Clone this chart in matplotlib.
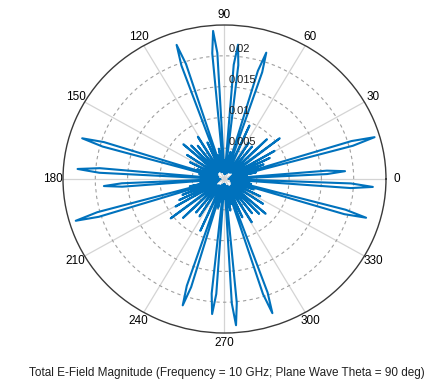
import numpy as np
import matplotlib
matplotlib.use("Agg")
import matplotlib.pyplot as plt

plt.rcParams['font.family'] = ['Liberation Sans', 'DejaVu Sans']

# total E-field magnitude, (angle deg, magnitude) per quadrant
trace_0_90 = [
    (0.0, 0.0012), (1.8, 0.0006), (2.9, 0.0159), (3.9, 0.0187), (4.9, 0.0159),
    (6.2, 0.0008), (8.5, 0.0035), (10.3, 0.0010), (12.5, 0.0050), (13.8, 0.0014),
    (15.2, 0.0206), (16.3, 0.0242), (17.4, 0.0206), (19.0, 0.0010), (21.5, 0.0065),
    (23.5, 0.0013), (26.0, 0.0078), (28.0, 0.0015), (30.5, 0.0090), (33.0, 0.0015),
    (37.7, 0.0108), (40.5, 0.0016), (44.5, 0.0092), (47.5, 0.0014), (51.0, 0.0068),
    (54.0, 0.0013), (57.5, 0.0070), (60.5, 0.0013), (66.0, 0.0095), (68.3, 0.0012),
    (69.8, 0.0010), (71.4, 0.0183), (72.5, 0.0215), (73.6, 0.0183), (75.0, 0.0010),
    (78.0, 0.0045), (80.5, 0.0010), (82.2, 0.0008), (83.4, 0.0186), (84.5, 0.0219),
    (85.6, 0.0186), (87.0, 0.0008), (89.0, 0.0030),
]
trace_90_180 = [
    (91.0, 0.0008), (93.1, 0.0205), (94.2, 0.0241), (95.3, 0.0205), (97.0, 0.0010),
    (100.0, 0.0050), (102.5, 0.0012), (104.5, 0.0040), (106.0, 0.0012), (107.7, 0.0196),
    (108.8, 0.0230), (109.9, 0.0196), (111.5, 0.0012), (114.0, 0.0065), (116.5, 0.0014),
    (121.0, 0.0080), (124.0, 0.0015), (127.5, 0.0068), (130.5, 0.0015), (133.5, 0.0075),
    (136.0, 0.0016), (138.5, 0.0085), (141.5, 0.0014), (146.0, 0.0070), (149.0, 0.0013),
    (153.0, 0.0060), (156.5, 0.0012), (159.5, 0.0045), (161.0, 0.0012), (162.2, 0.0196),
    (163.3, 0.0230), (164.4, 0.0196), (166.0, 0.0010), (168.5, 0.0040), (170.5, 0.0010),
    (172.5, 0.0035), (173.8, 0.0010), (174.8, 0.0194), (175.9, 0.0228), (177.0, 0.0194),
    (178.2, 0.0008),
]
trace_180_270 = [
    (180.0, 0.0010), (181.6, 0.0006), (182.5, 0.0159), (183.5, 0.0187), (184.5, 0.0159),
    (185.8, 0.0008), (188.5, 0.0038), (190.3, 0.0010), (192.5, 0.0055), (193.8, 0.0014),
    (195.3, 0.0204), (196.4, 0.0240), (197.5, 0.0204), (199.0, 0.0010), (201.5, 0.0070),
    (203.5, 0.0013), (206.0, 0.0078), (208.0, 0.0015), (210.5, 0.0088), (213.0, 0.0015),
    (217.5, 0.0105), (220.5, 0.0016), (224.5, 0.0090), (227.5, 0.0014), (231.0, 0.0070),
    (234.0, 0.0013), (237.5, 0.0072), (240.5, 0.0013), (246.0, 0.0092), (248.3, 0.0012),
    (249.8, 0.0010), (251.4, 0.0183), (252.5, 0.0215), (253.6, 0.0183), (255.0, 0.0010),
    (258.0, 0.0048), (260.5, 0.0010), (262.7, 0.0008), (263.9, 0.0187), (265.0, 0.0220),
    (266.1, 0.0187), (267.4, 0.0008), (269.2, 0.0032),
]
trace_270_360 = [
    (271.0, 0.0008), (273.2, 0.0202), (274.3, 0.0238), (275.4, 0.0202), (277.0, 0.0010),
    (280.0, 0.0052), (282.5, 0.0012), (284.5, 0.0042), (286.0, 0.0012), (287.7, 0.0196),
    (288.8, 0.0230), (289.9, 0.0196), (291.5, 0.0012), (294.0, 0.0068), (296.5, 0.0014),
    (301.0, 0.0082), (304.0, 0.0015), (307.5, 0.0070), (310.5, 0.0015), (313.5, 0.0078),
    (316.0, 0.0016), (318.5, 0.0085), (321.5, 0.0014), (326.0, 0.0072), (329.0, 0.0013),
    (333.0, 0.0062), (336.5, 0.0012), (339.5, 0.0048), (341.5, 0.0012), (342.9, 0.0194),
    (344.0, 0.0228), (345.1, 0.0194), (346.5, 0.0010), (349.0, 0.0042), (351.0, 0.0010),
    (353.0, 0.0038), (354.5, 0.0010), (355.7, 0.0196), (356.8, 0.0230), (357.9, 0.0196),
    (359.0, 0.0008),
]

theta_ticks = list(range(0, 360, 30))
r_ticks = [0.005, 0.01, 0.015, 0.02]
r_tick_labels = ['0.005', '0.01', '0.015', '0.02']
r_max = 0.025

title = 'Total E-Field Magnitude (Frequency = 10 GHz; Plane Wave Theta = 90 deg)'

fig = plt.figure(figsize=(4.36, 3.83), dpi=100)
ax = fig.add_axes([0.1445, 0.1305, 0.7408, 0.8042], projection='polar')
ax.set_aspect('auto')

pts = trace_0_90 + trace_90_180 + trace_180_270 + trace_270_360
deg = np.array([p[0] for p in pts] + [pts[0][0] + 360])
mag = np.array([p[1] for p in pts] + [pts[0][1]])
ax.plot(np.deg2rad(deg), mag, color='#0072BD', lw=1.5, solid_joinstyle='round')

ax.set_ylim(0, r_max)
ax.set_thetagrids(theta_ticks, [str(t) for t in theta_ticks], fontsize=8.5)
ax.set_rgrids(r_ticks, labels=[])
ax.tick_params(axis='x', pad=-3)
ax.xaxis.grid(True, color='#d4d4d4', lw=0.9, ls='-')
ax.yaxis.grid(True, color='#a0a0a0', lw=0.8, ls=(0, (3, 3)))
ax.spines['polar'].set_color('#3a3a3a')
ax.spines['polar'].set_linewidth(1.0)

for r, lab in zip(r_ticks, r_tick_labels):
    ax.annotate(lab, xy=(np.pi / 2, r), xytext=(3, 1), textcoords='offset points',
                ha='left', va='bottom', fontsize=8, color='#202020')

fig.text(0.52, 1 - 373 / 383, title, ha='center', va='center', fontsize=8.5, color='#202020')

fig.savefig('out.png', dpi=100)
